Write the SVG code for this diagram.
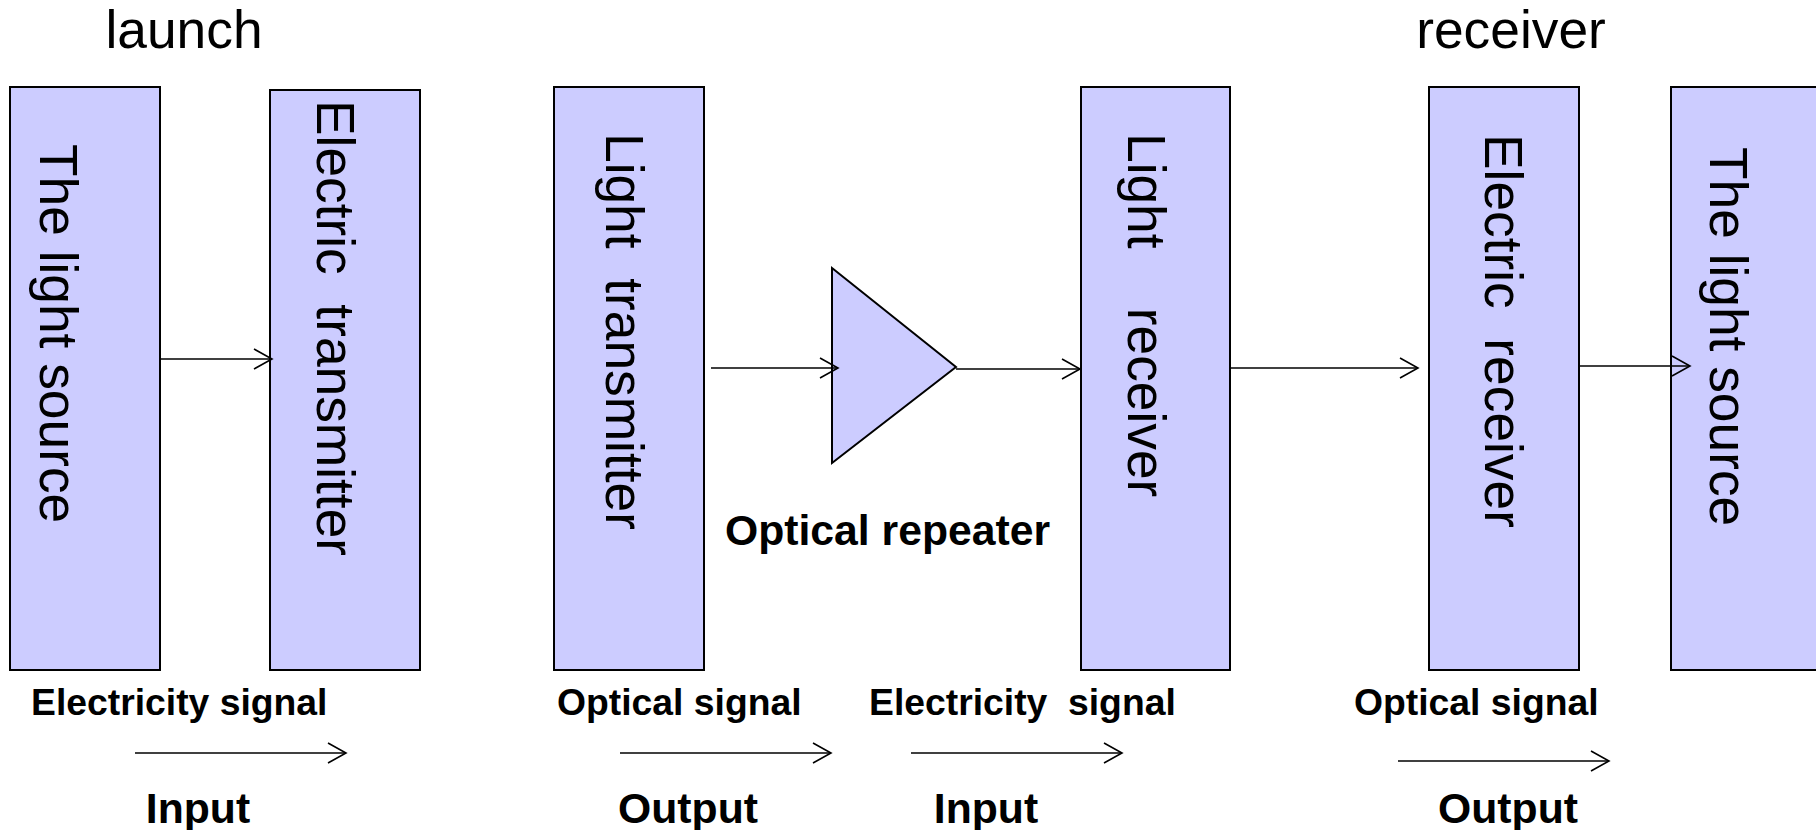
<svg xmlns="http://www.w3.org/2000/svg" width="1816" height="830" viewBox="0 0 1816 830">
<style>
  .box { fill: #CCCCFF; stroke: #000; stroke-width: 2; }
  .vt { font-family: "Liberation Sans", Arial, sans-serif; font-size: 53.3px; fill: #000; white-space: pre; }
  .title { font-family: "Liberation Sans", Arial, sans-serif; font-size: 53.3px; fill: #000; text-anchor: middle; }
  .sig { font-family: "Liberation Sans", Arial, sans-serif; font-size: 37.3px; font-weight: bold; fill: #000; white-space: pre; }
  .io { font-family: "Liberation Sans", Arial, sans-serif; font-size: 42.7px; font-weight: bold; fill: #000; text-anchor: middle; }
  .conn line { stroke: #000; stroke-width: 1.6; fill: none; marker-end: url(#arr); }
</style>
<defs>
  <marker id="arr" markerUnits="userSpaceOnUse" markerWidth="24" markerHeight="24" refX="19" refY="11" orient="auto">
    <path d="M1,1 L19,11 L1,21" fill="none" stroke="#000" stroke-width="1.6"/>
  </marker>
</defs>
<rect width="1816" height="830" fill="#fff"/>

<text class="title" x="184" y="48">launch</text>
<text class="title" x="1511" y="48">receiver</text>

<g id="node-light-source-1">
  <rect class="box" x="10" y="87" width="150" height="583"/>
  <text class="vt" transform="translate(40,144) rotate(90)">The light source</text>
</g>
<g id="node-electric-transmitter">
  <rect class="box" x="270" y="90" width="150" height="580"/>
  <text class="vt" xml:space="preserve" transform="translate(317,100) rotate(90)">Electric  transmitter</text>
</g>
<g id="node-light-transmitter">
  <rect class="box" x="554" y="87" width="150" height="583"/>
  <text class="vt" xml:space="preserve" transform="translate(606,133) rotate(90)">Light  transmitter</text>
</g>
<g id="node-optical-repeater">
  <polygon class="box" points="832,268 956,367 832,463"/>
  <text x="887.5" y="545" font-family="Liberation Sans, Arial, sans-serif" font-size="42.7" font-weight="bold" text-anchor="middle">Optical repeater</text>
</g>
<g id="node-light-receiver">
  <rect class="box" x="1081" y="87" width="149" height="583"/>
  <text class="vt" xml:space="preserve" transform="translate(1128,133) rotate(90)">Light    receiver</text>
</g>
<g id="node-electric-receiver">
  <rect class="box" x="1429" y="87" width="150" height="583"/>
  <text class="vt" xml:space="preserve" transform="translate(1485,134) rotate(90)">Electric  receiver</text>
</g>
<g id="node-light-source-2">
  <rect class="box" x="1671" y="87" width="150" height="583"/>
  <text class="vt" transform="translate(1710,147) rotate(90)">The light source</text>
</g>

<g id="connectors" class="conn">
  <line x1="160" y1="359" x2="272" y2="359"/>
  <line x1="711" y1="368" x2="838" y2="368"/>
  <line x1="956" y1="369" x2="1080" y2="369"/>
  <line x1="1230" y1="368" x2="1418" y2="368"/>
  <line x1="1579" y1="366" x2="1690" y2="366"/>
  <line x1="135" y1="753" x2="346" y2="753"/>
  <line x1="620" y1="753" x2="831" y2="753"/>
  <line x1="911" y1="753" x2="1122" y2="753"/>
  <line x1="1398" y1="761" x2="1609" y2="761"/>
</g>

<g id="labels">
  <text class="sig" x="31" y="715">Electricity signal</text>
  <text class="sig" x="557" y="715">Optical signal</text>
  <text class="sig" xml:space="preserve" x="869" y="715">Electricity  signal</text>
  <text class="sig" x="1354" y="715">Optical signal</text>
  <text class="io" x="198" y="823">Input</text>
  <text class="io" x="688" y="823">Output</text>
  <text class="io" x="986" y="823">Input</text>
  <text class="io" x="1508" y="823">Output</text>
</g>
</svg>
